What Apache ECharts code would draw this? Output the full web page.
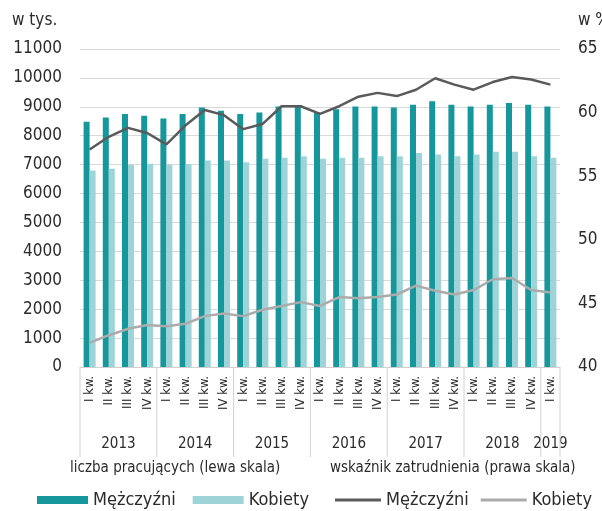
<!DOCTYPE html>
<html><head><meta charset="utf-8">
<script src="https://cdn.jsdelivr.net/npm/echarts@6/dist/echarts.min.js"></script>
<style>html,body{margin:0;padding:0;background:#fff}#c{width:602px;height:511px}</style>
</head><body><div id="c"></div>
<script>
const quarters = ['I kw.','II kw.','III kw.','IV kw.','I kw.','II kw.','III kw.','IV kw.','I kw.','II kw.','III kw.','IV kw.','I kw.','II kw.','III kw.','IV kw.','I kw.','II kw.','III kw.','IV kw.','I kw.','II kw.','III kw.','IV kw.','I kw.'];
const years = ['2013','2014','2015','2016','2017','2018','2019'];
const yearStart = [0,4,8,12,16,20,24];
const yearCount = [4,4,4,4,4,4,1];
const menCount = [8480,8630,8750,8690,8600,8750,8980,8860,8750,8800,9010,9000,8800,8920,9010,9010,8980,9070,9190,9070,9010,9070,9130,9070,9010];
const womenCount = [6800,6860,7000,7030,7000,7020,7140,7140,7080,7200,7240,7290,7200,7240,7240,7290,7290,7400,7350,7290,7350,7450,7450,7290,7240];
const menRate = [57.1,58.1,58.8,58.4,57.5,59.0,60.2,59.8,58.7,59.1,60.5,60.5,59.9,60.5,61.25,61.55,61.3,61.8,62.7,62.2,61.8,62.4,62.8,62.6,62.2];
const womenRate = [41.9,42.5,43.0,43.3,43.2,43.4,44.0,44.2,44.0,44.5,44.8,45.1,44.8,45.5,45.4,45.5,45.7,46.4,46.0,45.7,46.05,46.9,47.0,46.05,45.85];
const leftTicks = {min:0,max:11000,interval:1000};
const rightTicks = {min:40,max:65,interval:5};

const FONT = '"DejaVu Sans Condensed","DejaVu Sans",sans-serif';
const C_MEN_BAR = '#15979b', C_WOM_BAR = '#9ed4d7', C_MEN_LINE = '#5a5a5a', C_WOM_LINE = '#ababab';
const txt = '#2b2b2b';

const chart = echarts.init(document.getElementById('c'), null, {renderer:'canvas'});
chart.setOption({
  animation:false,
  textStyle:{fontFamily:FONT},
  title:[
    {text:'w tys.',left:12,top:12,padding:0,textStyle:{fontSize:17,fontWeight:'normal',color:txt,fontFamily:FONT}},
    {text:'w %',left:578,top:12,padding:0,textStyle:{fontSize:17,fontWeight:'normal',color:txt,fontFamily:FONT}},
    {text:'liczba pracujących (lewa skala)',left:70,top:461,padding:0,textStyle:{fontSize:15,fontWeight:'normal',color:txt,fontFamily:FONT}},
    {text:'wskaźnik zatrudnienia (prawa skala)',left:330,top:461,padding:0,textStyle:{fontSize:15,fontWeight:'normal',color:txt,fontFamily:FONT}}
  ],
  legend:[
    {left:37,top:491,padding:0,itemWidth:51,itemHeight:8,itemGap:17,icon:'rect',
     formatter:n=>n.split('|')[0],textStyle:{fontSize:18,color:txt,fontFamily:FONT},
     data:['Mężczyźni','Kobiety'],selectedMode:false},
    {left:335,top:491,padding:0,itemWidth:46,itemHeight:3,itemGap:12,icon:'rect',
     formatter:n=>n.split('|')[0],textStyle:{fontSize:18,color:txt,fontFamily:FONT},
     data:['Mężczyźni|w','Kobiety|w'],selectedMode:false}
  ],
  grid:{left:80,right:42,top:49,bottom:144,containLabel:false},
  xAxis:{type:'category',data:quarters,boundaryGap:true,
    axisLine:{lineStyle:{color:'#d0d0d0'}},axisTick:{show:false},
    axisLabel:{interval:0,rotate:90,margin:9,fontSize:13,color:txt,fontFamily:FONT}},
  yAxis:[
    {type:'value',min:leftTicks.min,max:leftTicks.max,interval:leftTicks.interval,
     axisLine:{show:false},axisTick:{show:false},
     splitLine:{lineStyle:{color:'#d9d9d9',width:1}},
     axisLabel:{margin:18,fontSize:17,color:txt,fontFamily:FONT,formatter:v=>String(v)}},
    {type:'value',min:rightTicks.min,max:rightTicks.max,interval:rightTicks.interval,
     axisLine:{show:false},axisTick:{show:false},splitLine:{show:false},
     axisLabel:{margin:18,fontSize:17,color:txt,fontFamily:FONT,formatter:v=>String(v)}}
  ],
  series:[
    {name:'Mężczyźni',type:'bar',data:menCount,barWidth:6,barGap:'0%',itemStyle:{color:C_MEN_BAR}},
    {name:'Kobiety',type:'bar',data:womenCount,barWidth:6,itemStyle:{color:C_WOM_BAR}},
    {name:'Mężczyźni|w',type:'line',yAxisIndex:1,data:menRate,symbol:'none',
     lineStyle:{color:C_MEN_LINE,width:2.5},itemStyle:{color:C_MEN_LINE}},
    {name:'Kobiety|w',type:'line',yAxisIndex:1,data:womenRate,symbol:'none',
     lineStyle:{color:C_WOM_LINE,width:2.5},itemStyle:{color:C_WOM_LINE}},
    {type:'custom',silent:true,clip:false,z:1,
     data:yearStart.map((s,i)=>[s,0,yearCount[i]]),
     encode:{x:0,y:1},
     renderItem:function(params,api){
       const i=params.dataIndex;
       const band=api.size([1,0])[0];
       const p=api.coord([yearStart[i],0]);
       const x0=p[0]-band/2, x1=x0+band*yearCount[i], y0=p[1];
       const ch=[
         {type:'line',shape:{x1:x0,y1:y0,x2:x0,y2:y0+90},style:{stroke:'#d0d0d0',lineWidth:1}},
         {type:'text',style:{text:years[i],x:(x0+x1)/2,y:y0+77,align:'center',verticalAlign:'middle',
           fontSize:15,fontFamily:FONT,fill:txt}}
       ];
       if(i===years.length-1){
         ch.push({type:'line',shape:{x1:x1,y1:y0,x2:x1,y2:y0+90},style:{stroke:'#d0d0d0',lineWidth:1}});
       }
       return {type:'group',children:ch};
     }}
  ]
});
</script></body></html>
